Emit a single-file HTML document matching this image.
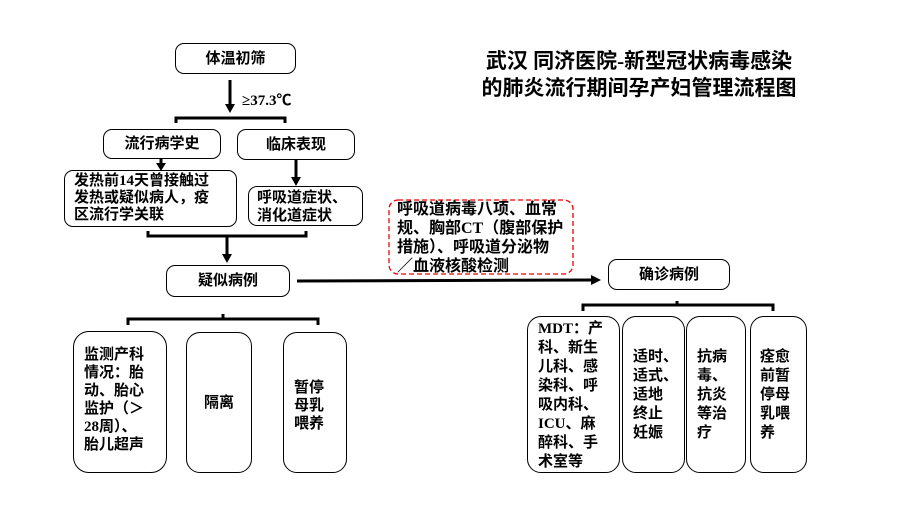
<!DOCTYPE html>
<html><head><meta charset="utf-8"><style>
body{margin:0;width:906px;height:508px;background:#fff;position:relative;overflow:hidden;font-family:"Liberation Serif","Noto Sans CJK SC",sans-serif;font-weight:bold;color:#000}
.b{position:absolute;border:1.3px solid #000;border-radius:9px;box-sizing:border-box;font-size:15px;line-height:18px}
.c{display:flex;align-items:center;justify-content:center;text-align:center}
.t{position:absolute;white-space:nowrap}
svg{position:absolute;left:0;top:0}
</style></head><body>
<svg width="906" height="508">
<g stroke="#000" stroke-width="3" fill="none">
<line x1="230" y1="80" x2="230" y2="105"/>
<path d="M176 123 V118 H285 V123"/>
<line x1="161" y1="158" x2="161" y2="164"/>
<line x1="296" y1="160" x2="296" y2="178"/>
<path d="M148 231 V236 H306 V231"/>
<line x1="227" y1="236" x2="227" y2="255"/>
<line x1="297" y1="281" x2="592" y2="280"/>
<path d="M583 311 V305 H773 V311"/>
<line x1="677" y1="305" x2="677" y2="301"/>
<path d="M128 325 V319 H318 V325"/>
<line x1="223" y1="319" x2="223" y2="314"/>
</g>
<g fill="#000">
<polygon points="225,104 235,104 230,113"/>
<polygon points="156,163 166,163 161,171"/>
<polygon points="291,177 301,177 296,186"/>
<polygon points="222,254 232,254 227,263"/>
<polygon points="591,275 591,285 601,280"/>
</g>
<rect x="389" y="200" width="184" height="74" rx="9" fill="none" stroke="#e00" stroke-width="1.3" stroke-dasharray="5,3"/>
</svg>
<div class="t" style="left:474px;top:48px;font-size:21px;line-height:27px;text-align:center;width:330px">武汉 同济医院-新型冠状病毒感染<br>的肺炎流行期间孕产妇管理流程图</div>
<div class="b c" style="left:175px;top:43px;width:121px;height:31px">体温初筛</div>
<div class="t" style="left:242px;top:89px;font-size:15px">≥37.3℃</div>
<div class="b c" style="left:103px;top:129px;width:118px;height:30px">流行病学史</div>
<div class="b c" style="left:237px;top:129px;width:118px;height:31px">临床表现</div>
<div class="b" style="left:64px;top:170px;width:173px;height:57px;padding:2px 0 0 9px;line-height:17px">发热前14天曾接触过<br>发热或疑似病人，疫<br>区流行学关联</div>
<div class="b" style="left:248px;top:186px;width:115px;height:40px;padding:2px 0 0 8px;line-height:18px">呼吸道症状、<br>消化道症状</div>
<div class="t" style="left:397px;top:200px;font-size:16px;line-height:19px">呼吸道病毒八项、血常<br>规、胸部CT（腹部保护<br>措施）、呼吸道分泌物<br>／血液核酸检测</div>
<div class="b c" style="left:166px;top:265px;width:124px;height:32px">疑似病例</div>
<div class="b c" style="left:608px;top:259px;width:122px;height:31px">确诊病例</div>
<div class="b" style="left:73px;top:331px;width:94px;height:142px;border-radius:16px;padding:14px 0 0 10px">监测产科<br>情况：胎<br>动、胎心<br>监护（＞<br>28周）、<br>胎儿超声</div>
<div class="b c" style="left:186px;top:332px;width:66px;height:141px;border-radius:14px">隔离</div>
<div class="b" style="left:283px;top:332px;width:64px;height:141px;border-radius:14px;padding:46px 0 0 10px">暂停<br>母乳<br>喂养</div>
<div class="b" style="left:527px;top:316px;width:93px;height:157px;border-radius:14px;padding:3px 0 0 10px;line-height:19px">MDT：产<br>科、新生<br>儿科、感<br>染科、呼<br>吸内科、<br>ICU、麻<br>醉科、手<br>术室等</div>
<div class="b" style="left:622px;top:316px;width:63px;height:157px;border-radius:14px;padding:31px 0 0 10px;line-height:19px">适时、<br>适式、<br>适地<br>终止<br>妊娠</div>
<div class="b" style="left:686px;top:316px;width:60px;height:157px;border-radius:14px;padding:31px 0 0 10px;line-height:19px">抗病<br>毒、<br>抗炎<br>等治<br>疗</div>
<div class="b" style="left:750px;top:316px;width:57px;height:157px;border-radius:14px;padding:31px 0 0 9px;line-height:19px">痊愈<br>前暂<br>停母<br>乳喂<br>养</div>
</body></html>
